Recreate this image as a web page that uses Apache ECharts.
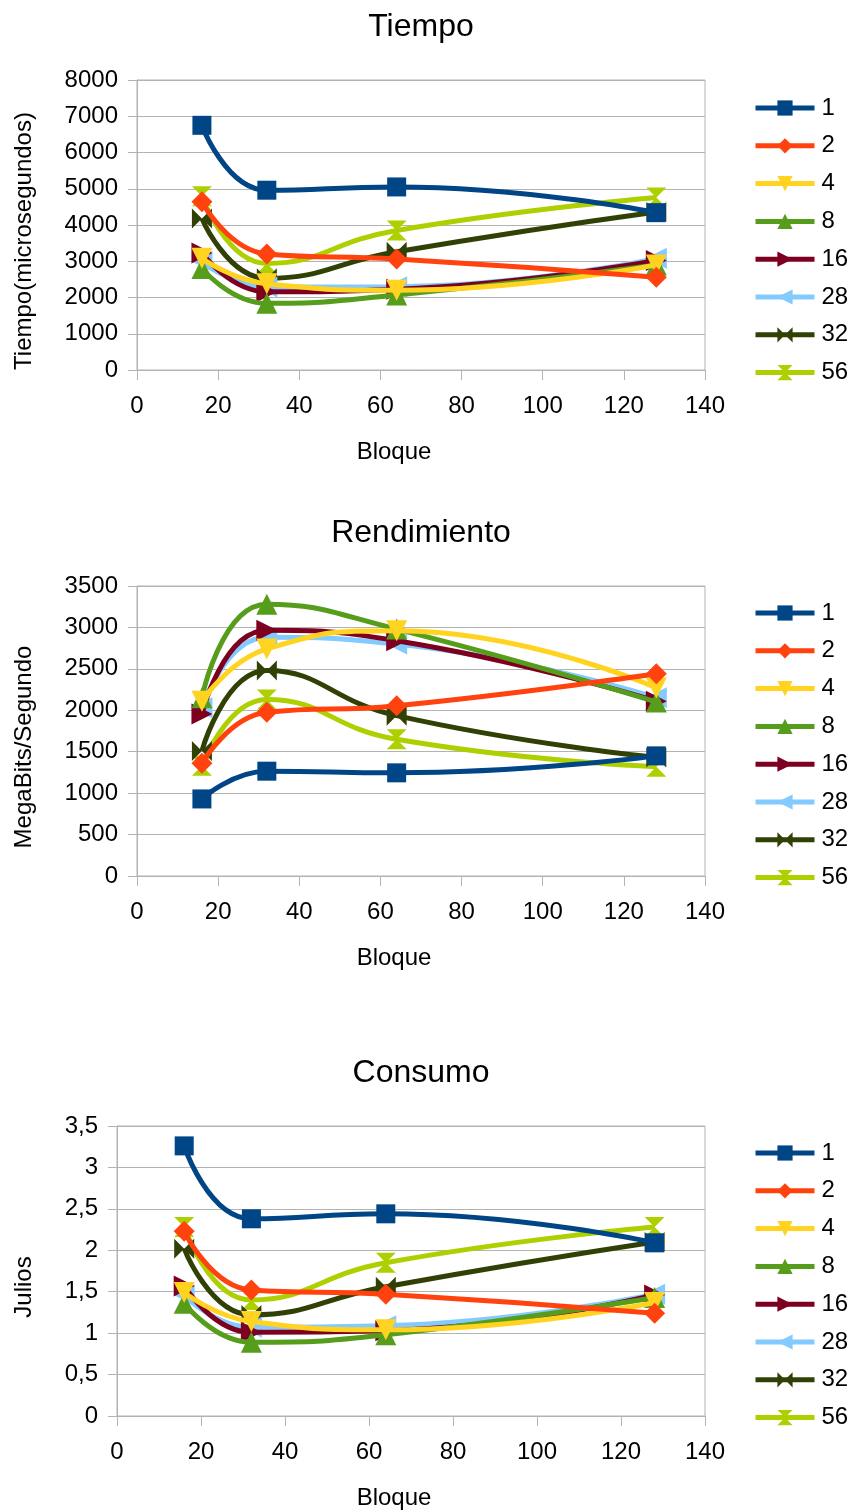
<!DOCTYPE html>
<html><head><meta charset="utf-8">
<script src="https://cdn.jsdelivr.net/npm/echarts@6/dist/echarts.min.js"></script>
<style>html,body{margin:0;padding:0;background:#fff}#c{width:854px;height:1511px}</style>
</head><body><div id="c"></div>
<script>
// Block sizes on the x axis and thread counts (one line per count)
const bloques = [16, 32, 64, 128];
const hilos = ['1', '2', '4', '8', '16', '28', '32', '56'];

// Time in microseconds, one row per thread count
const tiempo = [
  [6750, 4960, 5050, 4340],
  [4640, 3200, 3060, 2560],
  [3080, 2380, 2200, 2900],
  [2800, 1840, 2070, 2900],
  [3230, 2160, 2230, 3020],
  [3000, 2290, 2300, 3080],
  [4180, 2530, 3260, 4360],
  [4790, 2940, 3850, 4760]
];
// Throughput in MegaBits/Segundo
const rendimiento = [
  [930, 1265, 1245, 1450],
  [1360, 1975, 2055, 2440],
  [2110, 2740, 2960, 2270],
  [2150, 3280, 2980, 2100],
  [1955, 2965, 2840, 2110],
  [2030, 2880, 2800, 2150],
  [1510, 2480, 1935, 1430],
  [1330, 2130, 1650, 1320]
];
// Energy in Julios
const consumo = [
  [3.26, 2.38, 2.44, 2.09],
  [2.23, 1.52, 1.47, 1.24],
  [1.49, 1.14, 1.04, 1.37],
  [1.36, 0.89, 0.98, 1.43],
  [1.57, 1.01, 1.03, 1.46],
  [1.46, 1.07, 1.09, 1.47],
  [2.02, 1.22, 1.56, 2.10],
  [2.28, 1.40, 1.85, 2.28]
];

const FONT = 'Liberation Sans';
const GRID_GRAY = '#b3b3b3';
const colors = ['#004586', '#ff420e', '#ffd320', '#579d1c', '#7e0021', '#83caff', '#314004', '#aecf00'];
const BOWTIE = 'path://M0,0L5,5L10,0L10,10L5,5L0,10Z';
const HOURGLASS = 'path://M0,0L10,0L5,5L10,10L0,10L5,5Z';
const symbols = ['rect', 'diamond', 'triangle', 'triangle', 'triangle', 'triangle', BOWTIE, HOURGLASS];
const rotations = [0, 0, 180, 0, -90, 90, 0, 0];
const sizes = [19, 21, 21, 21, 21, 21, 20, 20];

const panels = [
  { title: 'Tiempo', yName: 'Tiempo(microsegundos)', data: tiempo, top: 80, left: 137, max: 8000, interval: 1000, dec: false, legendTop: 108 },
  { title: 'Rendimiento', yName: 'MegaBits/Segundo', data: rendimiento, top: 586, left: 137, max: 3500, interval: 500, dec: false, legendTop: 613 },
  { title: 'Consumo', yName: 'Julios', data: consumo, top: 1126, left: 117, max: 3.5, interval: 0.5, dec: true, legendTop: 1153 }
];
const PLOT_RIGHT = 705;
const PLOT_H = 290;

const option = {
  backgroundColor: '#fff',
  animation: false,
  title: [], grid: [], xAxis: [], yAxis: [], legend: [], series: []
};

panels.forEach((p, gi) => {
  option.title.push({
    text: p.title, left: 421, top: p.top - 69, textAlign: 'center', padding: 0,
    textStyle: { fontFamily: FONT, fontSize: 32, fontWeight: 'normal', color: '#000' }
  });
  option.grid.push({
    left: p.left, top: p.top, width: PLOT_RIGHT - p.left, height: PLOT_H,
    show: true, borderColor: GRID_GRAY, borderWidth: 1, backgroundColor: 'transparent'
  });
  // "Bloque" sits at x=394 rather than at the plot centre
  const nameShift = 2 * ((p.left + PLOT_RIGHT) / 2 - 394);
  option.xAxis.push({
    type: 'value', gridIndex: gi, min: 0, max: 140, interval: 20,
    name: 'Bloque', nameLocation: 'middle', nameGap: 70,
    nameTextStyle: { fontFamily: FONT, fontSize: 24, color: '#000', padding: [0, nameShift, 0, 0] },
    axisLine: { show: true, lineStyle: { color: GRID_GRAY, width: 1 } },
    axisTick: { show: true, length: 10, lineStyle: { color: GRID_GRAY } },
    axisLabel: { fontFamily: FONT, fontSize: 24, color: '#000', margin: 24 },
    splitLine: { show: false }
  });
  option.yAxis.push({
    type: 'value', gridIndex: gi, min: 0, max: p.max, interval: p.interval,
    name: p.yName, nameLocation: 'middle', nameGap: p.left - 36, nameRotate: 90,
    nameTextStyle: { fontFamily: FONT, fontSize: 24, color: '#000', padding: [0, 32, 0, 0] },
    axisLine: { show: true, lineStyle: { color: GRID_GRAY, width: 1 } },
    axisTick: { show: true, length: 9, lineStyle: { color: GRID_GRAY } },
    axisLabel: {
      fontFamily: FONT, fontSize: 24, color: '#000', margin: 19,
      formatter: p.dec ? (v => String(v).replace('.', ',')) : (v => String(v))
    },
    splitLine: { show: true, lineStyle: { color: GRID_GRAY, width: 1 } }
  });
  option.legend.push({
    orient: 'vertical', left: 753, top: p.legendTop - 12, padding: 0,
    itemWidth: 59, itemHeight: 19, itemGap: 13.8,
    lineStyle: { width: 5 },
    textStyle: { fontFamily: FONT, fontSize: 24, color: '#000', padding: [0, 0, 0, 2] },
    data: hilos
  });
  hilos.forEach((h, si) => {
    option.series.push({
      type: 'line', name: h, xAxisIndex: gi, yAxisIndex: gi,
      data: bloques.map((b, k) => [b, p.data[si][k]]),
      smooth: 0.5,
      z: 2 + (hilos.length - si),
      symbol: symbols[si], symbolRotate: rotations[si], symbolSize: sizes[si],
      showSymbol: true,
      lineStyle: { color: colors[si], width: 5 },
      itemStyle: { color: colors[si] },
      emphasis: { disabled: true }
    });
  });
});

const chart = echarts.init(document.getElementById('c'), null, { renderer: 'canvas' });
chart.setOption(option);
</script>
</body></html>
